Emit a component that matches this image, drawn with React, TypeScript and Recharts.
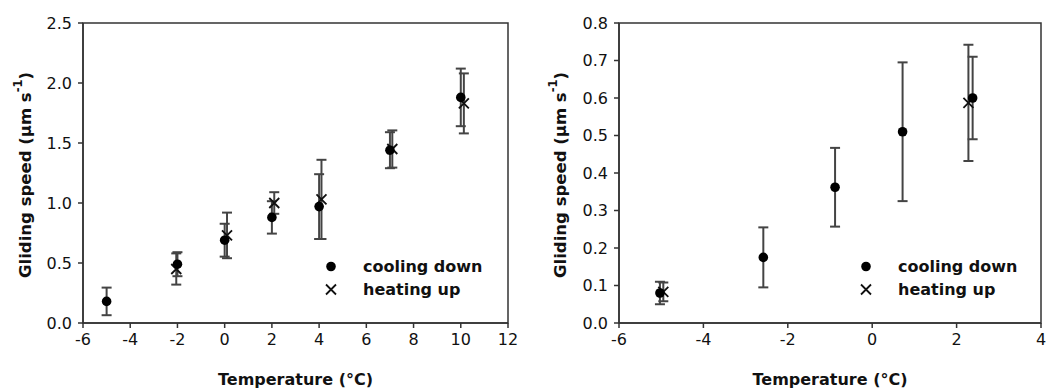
import React from "react";
import {
  ScatterChart,
  Scatter,
  XAxis,
  YAxis,
  ErrorBar,
  ReferenceArea,
} from "recharts";

/* left panel: gliding speed vs temperature */
const coolLeftTemp = [-5, -2, 0, 2, 4, 7, 10];
const coolLeftSpeed = [0.18, 0.49, 0.69, 0.88, 0.97, 1.44, 1.88];
const coolLeftErr = [0.115, 0.1, 0.137, 0.135, 0.27, 0.15, 0.24];

const heatLeftTemp = [-2.05, 0.1, 2.1, 4.1, 7.1, 10.13];
const heatLeftSpeed = [0.45, 0.73, 1.0, 1.03, 1.45, 1.83];
const heatLeftErr = [0.13, 0.19, 0.09, 0.33, 0.155, 0.25];

/* right panel */
const coolRightTemp = [-5.03, -2.58, -0.88, 0.72, 2.38];
const coolRightSpeed = [0.08, 0.175, 0.362, 0.51, 0.6];
const coolRightErr = [0.03, 0.08, 0.105, 0.185, 0.11];

const heatRightTemp = [-4.95, 2.28];
const heatRightSpeed = [0.083, 0.587];
const heatRightErr = [0.025, 0.155];

const leftXTicks = [-6, -4, -2, 0, 2, 4, 6, 8, 10, 12];
const leftYTicks = [0, 0.5, 1.0, 1.5, 2.0, 2.5];
const rightXTicks = [-6, -4, -2, 0, 2, 4];
const rightYTicks = [0, 0.1, 0.2, 0.3, 0.4, 0.5, 0.6, 0.7, 0.8];

const legendNames = ["cooling down", "heating up"];

const FONT = "'DejaVu Sans', 'Liberation Sans', sans-serif";
const AXIS = "#333";
const BAR = "#444";

const toPoints = (xs: number[], ys: number[], es: number[]) =>
  xs.map((x, i) => ({ x, y: ys[i], err: es[i] }));

const Dot = ({ cx, cy }: any) => <circle cx={cx} cy={cy} r={4.8} fill="#000" />;

const Cross = ({ cx, cy }: any) => (
  <path
    d={`M${cx - 5},${cy - 5}L${cx + 5},${cy + 5}M${cx - 5},${cy + 5}L${cx + 5},${cy - 5}`}
    stroke="#111"
    strokeWidth={1.8}
    fill="none"
  />
);

// tick labels drawn by hand so the size sticks
const XTick = ({ x, y, payload }: any) => (
  <text x={x} y={y} dy="0.71em" textAnchor="middle" fontSize={16} fill="#111" fontFamily={FONT}>
    {payload.value}
  </text>
);

const YTick = ({ x, y, payload }: any) => (
  <text x={x} y={y} dy="0.36em" textAnchor="end" fontSize={16} fill="#111" fontFamily={FONT}>
    {Number(payload.value).toFixed(1)}
  </text>
);

const XTitle = ({ viewBox }: any) => (
  <text
    x={viewBox.x + viewBox.width / 2}
    y={viewBox.y + 62}
    textAnchor="middle"
    fontSize={16}
    fontWeight="bold"
    fill="#111"
    fontFamily={FONT}
  >
    Temperature (°C)
  </text>
);

const YTitle = ({ viewBox, shift }: any) => {
  const x = viewBox.x + shift;
  const y = viewBox.y + viewBox.height / 2 + 2;
  return (
    <text
      x={x}
      y={y}
      transform={`rotate(-90 ${x} ${y})`}
      textAnchor="middle"
      dominantBaseline="central"
      fontSize={16.5}
      fontWeight="bold"
      fill="#111"
      fontFamily={FONT}
    >
      Gliding speed (μm s
      <tspan dy={-7} fontSize={11.5}>-1</tspan>
      <tspan dy={7}>)</tspan>
    </text>
  );
};

const LegendBox = ({ left, top }: { left: number; top: number }) => (
  <div
    style={{
      position: "absolute",
      left,
      top,
      fontSize: 16,
      fontWeight: "bold",
      color: "#111",
      lineHeight: "23px",
    }}
  >
    {legendNames.map((name, i) => (
      <div key={name} style={{ display: "flex", alignItems: "center", height: 23 }}>
        <svg width={41} height={23}>
          {i === 0 ? <Dot cx={9} cy={11.5} /> : <Cross cx={9} cy={11.5} />}
        </svg>
        <span>{name}</span>
      </div>
    ))}
  </div>
);

type PanelProps = {
  width: number;
  yAxisWidth: number;
  marginRight: number;
  xDomain: [number, number];
  yDomain: [number, number];
  xTicks: number[];
  yTicks: number[];
  cooling: { x: number; y: number; err: number }[];
  heating: { x: number; y: number; err: number }[];
  titleShift: number;
  legendLeft: number;
};

function Panel(p: PanelProps) {
  return (
    <div style={{ position: "relative", width: p.width, height: 389 }}>
      <ScatterChart
        width={p.width}
        height={389}
        margin={{ top: 23, right: p.marginRight, bottom: 0, left: 0 }}
      >
        <ReferenceArea
          x1={p.xDomain[0]}
          x2={p.xDomain[1]}
          y1={p.yDomain[0]}
          y2={p.yDomain[1]}
          fill="none"
          stroke={AXIS}
          strokeWidth={1.5}
        />
        <XAxis
          type="number"
          dataKey="x"
          domain={p.xDomain}
          ticks={p.xTicks}
          allowDataOverflow
          height={66}
          tick={<XTick />}
          tickSize={5}
          tickMargin={6}
          axisLine={{ stroke: AXIS, strokeWidth: 1.5 }}
          tickLine={{ stroke: AXIS, strokeWidth: 1.5 }}
          label={<XTitle />}
        />
        <YAxis
          type="number"
          dataKey="y"
          domain={p.yDomain}
          ticks={p.yTicks}
          allowDataOverflow
          width={p.yAxisWidth}
          tick={<YTick />}
          tickSize={5}
          tickMargin={6}
          axisLine={{ stroke: AXIS, strokeWidth: 1.5 }}
          tickLine={{ stroke: AXIS, strokeWidth: 1.5 }}
          label={<YTitle shift={p.titleShift} />}
        />
        <Scatter
          name="heating up"
          data={p.heating}
          shape={<Cross />}
          isAnimationActive={false}
        >
          <ErrorBar dataKey="err" direction="y" width={5} stroke={BAR} strokeWidth={2} />
        </Scatter>
        <Scatter
          name="cooling down"
          data={p.cooling}
          shape={<Dot />}
          isAnimationActive={false}
        >
          <ErrorBar dataKey="err" direction="y" width={5} stroke={BAR} strokeWidth={2} />
        </Scatter>
      </ScatterChart>
      <LegendBox left={p.legendLeft} top={255} />
    </div>
  );
}

export default function App() {
  return (
    <div
      style={{
        position: "absolute",
        left: 0,
        top: 0,
        width: 1053,
        height: 389,
        background: "#fff",
        fontFamily: FONT,
        display: "flex",
        overflow: "hidden",
      }}
    >
      <Panel
        width={530}
        yAxisWidth={83}
        marginRight={22}
        xDomain={[-6, 12]}
        yDomain={[0, 2.5]}
        xTicks={leftXTicks}
        yTicks={leftYTicks}
        cooling={toPoints(coolLeftTemp, coolLeftSpeed, coolLeftErr)}
        heating={toPoints(heatLeftTemp, heatLeftSpeed, heatLeftErr)}
        titleShift={25}
        legendLeft={322}
      />
      <Panel
        width={523}
        yAxisWidth={89}
        marginRight={12}
        xDomain={[-6, 4]}
        yDomain={[0, 0.8]}
        xTicks={rightXTicks}
        yTicks={rightYTicks}
        cooling={toPoints(coolRightTemp, coolRightSpeed, coolRightErr)}
        heating={toPoints(heatRightTemp, heatRightSpeed, heatRightErr)}
        titleShift={30}
        legendLeft={327}
      />
    </div>
  );
}
